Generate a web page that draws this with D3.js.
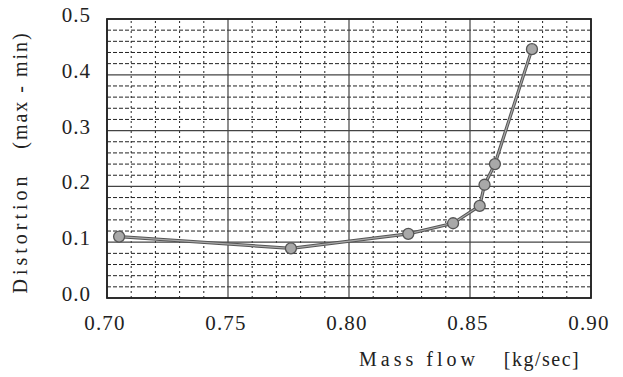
<!DOCTYPE html>
<html>
<head>
<meta charset="utf-8">
<script src="https://cdn.jsdelivr.net/npm/d3@7"></script>
<style>
  body { margin: 0; background: #fff; }
  svg { display: block; }
</style>
</head>
<body>
<script>
// mass flow [kg/sec] vs distortion (max - min)
const massFlow = [0.705, 0.776, 0.8245, 0.843, 0.854, 0.856, 0.8603, 0.8756];
const distortion = [0.110, 0.089, 0.115, 0.134, 0.165, 0.203, 0.240, 0.446];
const xTicks = [0.70, 0.75, 0.80, 0.85, 0.90];
const yTicks = [0.0, 0.1, 0.2, 0.3, 0.4, 0.5];
const xMinor = d3.range(0.70, 0.9001, 0.01);
const yMinor = d3.range(0.0, 0.5001, 0.02);

const width = 623, height = 377;
const margin = { top: 19, right: 32, bottom: 79, left: 107 };

const svg = d3.select("body").append("svg")
  .attr("width", width)
  .attr("height", height)
  .attr("font-family", "'Liberation Serif', 'Times New Roman', serif");

const x = d3.scaleLinear()
  .domain([0.70, 0.90])
  .range([margin.left, width - margin.right]);

const y = d3.scaleLinear()
  .domain([0.0, 0.5])
  .range([height - margin.bottom, margin.top]);

const grid = svg.append("g");

// minor grid, dashed
grid.selectAll("line.vminor")
  .data(xMinor.filter(v => Math.abs(v * 20 - Math.round(v * 20)) > 1e-6))
  .join("line")
  .attr("x1", d => x(d)).attr("x2", d => x(d))
  .attr("y1", y(0)).attr("y2", y(0.5))
  .attr("stroke", "#222")
  .attr("stroke-width", 1)
  .attr("stroke-dasharray", "2,3");

grid.selectAll("line.hminor")
  .data(yMinor.filter(v => Math.abs(v * 10 - Math.round(v * 10)) > 1e-6))
  .join("line")
  .attr("y1", d => y(d)).attr("y2", d => y(d))
  .attr("x1", x(0.70)).attr("x2", x(0.90))
  .attr("stroke", "#222")
  .attr("stroke-width", 1)
  .attr("stroke-dasharray", "4,2");

// major grid, solid
grid.selectAll("line.vmajor")
  .data(xTicks)
  .join("line")
  .attr("x1", d => x(d)).attr("x2", d => x(d))
  .attr("y1", y(0)).attr("y2", y(0.5))
  .attr("stroke", "#444")
  .attr("stroke-width", 1.2);

grid.selectAll("line.hmajor")
  .data(yTicks)
  .join("line")
  .attr("y1", d => y(d)).attr("y2", d => y(d))
  .attr("x1", x(0.70)).attr("x2", x(0.90))
  .attr("stroke", "#444")
  .attr("stroke-width", 1.2);

// frame
svg.append("rect")
  .attr("x", x(0.70)).attr("y", y(0.5))
  .attr("width", x(0.90) - x(0.70))
  .attr("height", y(0) - y(0.5))
  .attr("fill", "none")
  .attr("stroke", "#222")
  .attr("stroke-width", 1.8);

// tick labels
svg.append("g").selectAll("text")
  .data(xTicks)
  .join("text")
  .attr("x", d => x(d) - 2)
  .attr("y", 330)
  .attr("text-anchor", "middle")
  .attr("font-size", 21)
  .attr("letter-spacing", 1.2)
  .attr("fill", "#222")
  .text(d => d.toFixed(2));

svg.append("g").selectAll("text")
  .data(yTicks)
  .join("text")
  .attr("x", 91)
  .attr("y", d => y(d) + 3)
  .attr("text-anchor", "end")
  .attr("font-size", 21)
  .attr("letter-spacing", 1)
  .attr("fill", "#222")
  .text(d => d.toFixed(1));

// axis titles
const title = (txt, tx, ty, rot, spacing) => svg.append("text")
  .attr("transform", `translate(${tx},${ty}) rotate(${rot})`)
  .attr("text-anchor", "middle")
  .attr("font-size", 20)
  .attr("letter-spacing", spacing)
  .attr("fill", "#222")
  .text(txt);

title("Mass flow", 419, 366, 0, 4);
title("[kg/sec]", 542, 366, 0, 1.5);
title("Distortion", 27, 233, -90, 4);
title("(max - min)", 27, 90, -90, 2);

// data line
const line = d3.line()
  .x((d, i) => x(massFlow[i]))
  .y((d, i) => y(distortion[i]));

svg.append("path")
  .datum(massFlow)
  .attr("d", line)
  .attr("fill", "none")
  .attr("stroke", "#555")
  .attr("stroke-width", 3.2);

svg.append("path")
  .datum(massFlow)
  .attr("d", line)
  .attr("fill", "none")
  .attr("stroke", "#aaa")
  .attr("stroke-width", 1.2);

svg.append("g").selectAll("circle")
  .data(massFlow)
  .join("circle")
  .attr("cx", d => x(d))
  .attr("cy", (d, i) => y(distortion[i]))
  .attr("r", 5.5)
  .attr("fill", "#a8a8a8")
  .attr("stroke", "#555")
  .attr("stroke-width", 1.3);
</script>
</body>
</html>
